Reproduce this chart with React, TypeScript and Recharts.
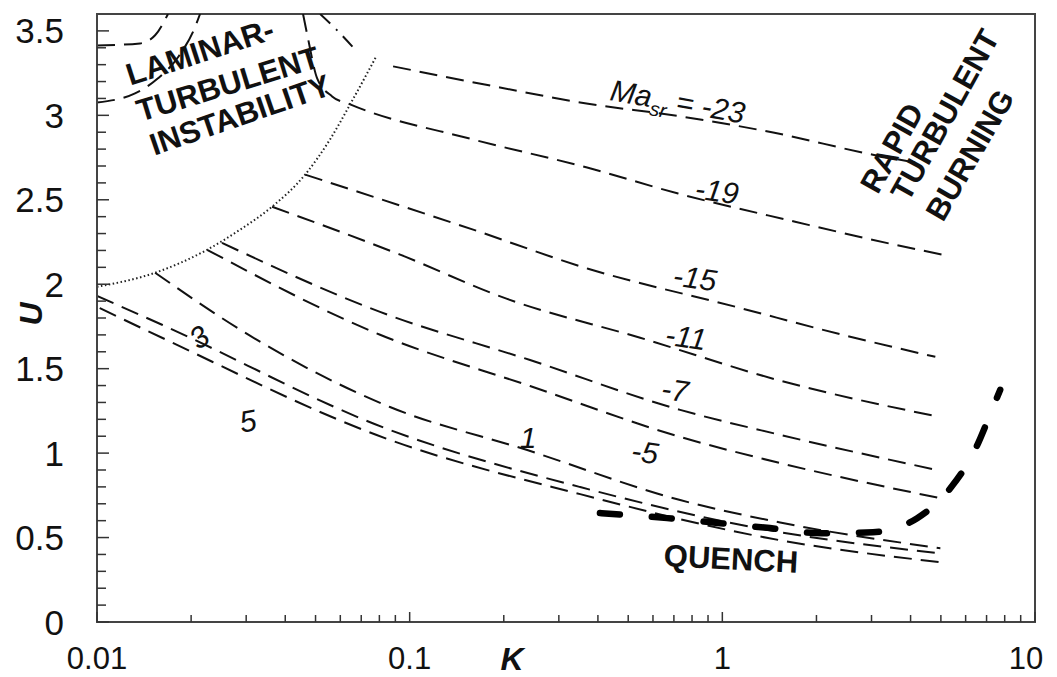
import React from 'react';
import { ComposedChart, Line, XAxis, YAxis, ReferenceArea } from 'recharts';

const FONT = '"Liberation Sans", Arial, Helvetica, sans-serif';

// Curves U(K), labelled by Ma_sr
const kM23 = [0.0885, 0.1945, 0.351, 0.733, 1.454, 3.03, 4.14];
const uM23 = [3.29, 3.165, 3.076, 2.994, 2.898, 2.767, 2.72];

const kM19 = [0.0456, 0.0473, 0.0506, 0.0565, 0.0645, 0.1596, 0.3694, 0.7222, 1.709, 3.442, 5.05];
const uM19 = [3.6, 3.455, 3.219, 3.112, 3.065, 2.857, 2.691, 2.537, 2.37, 2.24, 2.175];

const kM15 = [0.0463, 0.1596, 0.372, 1.099, 2.564, 4.8];
const uM15 = [2.649, 2.323, 2.092, 1.867, 1.689, 1.57];

const kM11 = [0.0363, 0.0932, 0.205, 0.546, 1.531, 4.98];
const uM11 = [2.459, 2.175, 1.913, 1.683, 1.429, 1.213];

const kM7 = [0.0251, 0.0804, 0.2427, 0.733, 1.531, 4.69];
const uM7 = [2.245, 1.836, 1.551, 1.256, 1.108, 0.906];

const kM5 = [0.0225, 0.0804, 0.2427, 0.733, 1.531, 4.98];
const uM5 = [2.204, 1.701, 1.397, 1.096, 0.941, 0.733];

const kP1 = [0.01534, 0.0325, 0.0865, 0.2377, 0.733, 1.531, 4.98];
const uP1 = [2.068, 1.67, 1.273, 1.018, 0.722, 0.589, 0.437];

const kP3 = [0.01, 0.01614, 0.0865, 0.351, 1.531, 4.98];
const uP3 = [1.931, 1.76, 1.137, 0.799, 0.532, 0.407];

const kP5 = [0.0102, 0.01614, 0.0865, 0.351, 1.531, 4.98];
const uP5 = [1.859, 1.683, 1.078, 0.757, 0.484, 0.354];

// laminar-turbulent stability boundary (dotted)
const kStab = [0.01, 0.01534, 0.0225, 0.02868, 0.0363, 0.0463, 0.0556, 0.0645, 0.0782];
const uStab = [1.985, 2.068, 2.204, 2.323, 2.459, 2.649, 2.857, 3.065, 3.349];

// quench / rapid turbulent burning boundary (bold dashed)
const kQuench = [0.406, 0.666, 0.984, 1.42, 2.08, 3.03, 4.2, 5.36, 6.4, 7.3, 7.74];
const uQuench = [0.645, 0.615, 0.585, 0.556, 0.526, 0.532, 0.615, 0.792, 1.012, 1.26, 1.375];

// upper-left fragments inside instability region
const kTop1 = [0.01, 0.01373, 0.01534, 0.01687];
const uTop1 = [3.414, 3.426, 3.474, 3.6];
const kTop2 = [0.01, 0.01323, 0.01567, 0.01816, 0.02058, 0.02136];
const uTop2 = [3.076, 3.13, 3.219, 3.344, 3.522, 3.6];
const kTop3 = [0.0517, 0.0582, 0.0668];
const uTop3 = [3.6, 3.509, 3.391];

// ticks
const xMajor = [0.01, 0.1, 1, 10];
const xTicks = [0.01, 0.02, 0.03, 0.04, 0.05, 0.06, 0.07, 0.08, 0.09, 0.1, 0.2, 0.3, 0.4, 0.5, 0.6, 0.7, 0.8, 0.9, 1, 2, 3, 4, 5, 6, 7, 8, 9, 10];
const xTickLabels = ['0.01', '0.1', '1', '10'];
const yMajor = [0, 0.5, 1, 1.5, 2, 2.5, 3, 3.5];
const yTickLabels = ['0', '0.5', '1', '1.5', '2', '2.5', '3', '3.5'];
const yTicks = [0, 0.1, 0.2, 0.3, 0.4, 0.5, 0.6, 0.7, 0.8, 0.9, 1, 1.1, 1.2, 1.3, 1.4, 1.5, 1.6, 1.7, 1.8, 1.9, 2, 2.1, 2.2, 2.3, 2.4, 2.5, 2.6, 2.7, 2.8, 2.9, 3, 3.1, 3.2, 3.3, 3.4, 3.5];

const toPts = (ks: number[], us: number[]) => ks.map((k, i) => ({ k, u: us[i] }));

const thinDash = '18 9';

const XTick = (props: any) => {
  const { x, y, payload } = props;
  const idx = xMajor.indexOf(payload.value);
  const major = idx >= 0;
  const last = idx === xMajor.length - 1;
  return (
    <g>
      <line x1={x} x2={x} y1={y} y2={y - (major ? 10 : 7)} stroke="#333" strokeWidth={1.5} />
      {major && (
        <text x={last ? x - 9 : x} y={y + 47} textAnchor="middle" fontFamily={FONT} fontSize={31} fill="#111">
          {xTickLabels[idx]}
        </text>
      )}
    </g>
  );
};

const YTick = (props: any) => {
  const { x, y, payload } = props;
  const idx = yMajor.indexOf(payload.value);
  const major = idx >= 0;
  return (
    <g>
      <line x1={x} x2={x + (major ? 12 : 9)} y1={y} y2={y} stroke="#333" strokeWidth={1.5} />
      {major && (
        <text x={x - 33} y={y} textAnchor="end" dominantBaseline="central" fontFamily={FONT} fontSize={35} fill="#111">
          {yTickLabels[idx]}
        </text>
      )}
    </g>
  );
};

const series = [
  { id: 'm23', k: kM23, u: uM23 },
  { id: 'm19', k: kM19, u: uM19 },
  { id: 'm15', k: kM15, u: uM15 },
  { id: 'm11', k: kM11, u: uM11 },
  { id: 'm7', k: kM7, u: uM7 },
  { id: 'm5', k: kM5, u: uM5 },
  { id: 'p1', k: kP1, u: uP1 },
  { id: 'p3', k: kP3, u: uP3 },
  { id: 'p5', k: kP5, u: uP5 },
  { id: 't1', k: kTop1, u: uTop1 },
  { id: 't2', k: kTop2, u: uTop2 },
];

const bold = { fontFamily: FONT, fontWeight: 700, fontSize: 31, fill: '#111' } as const;
const ital = { fontFamily: FONT, fontStyle: 'italic', fontSize: 30, fill: '#111' } as const;

export default function App() {
  return (
    <div style={{ position: 'absolute', left: 0, top: 0, width: 1057, height: 677, background: '#fff' }}>
      <ComposedChart width={1057} height={677} margin={{ top: 14, right: 22, bottom: 0, left: 37 }}>
        <XAxis
          dataKey="k"
          type="number"
          scale="log"
          domain={[0.01, 10]}
          allowDataOverflow
          ticks={xTicks}
          interval={0}
          tickSize={0}
          tickMargin={0}
          tickLine={false}
          axisLine={{ stroke: '#444', strokeWidth: 2 }}
          tick={(p: any) => <XTick {...p} />}
          height={55}
        />
        <YAxis
          type="number"
          domain={[0, 3.6]}
          allowDataOverflow
          ticks={yTicks}
          interval={0}
          tickSize={0}
          tickMargin={0}
          tickLine={false}
          axisLine={{ stroke: '#444', strokeWidth: 2 }}
          tick={(p: any) => <YTick {...p} />}
          width={60}
        />
        <ReferenceArea x1={0.01} x2={10} y1={0} y2={3.6} fill="none" stroke="#444" strokeWidth={2} fillOpacity={0} />
        {series.map((s) => (
          <Line
            key={s.id}
            data={toPts(s.k, s.u)}
            dataKey="u"
            type="monotone"
            stroke="#111"
            strokeWidth={2}
            strokeDasharray={thinDash}
            dot={false}
            activeDot={false}
            isAnimationActive={false}
          />
        ))}
        <Line
          data={toPts(kTop3, uTop3)}
          dataKey="u"
          type="monotone"
          stroke="#111"
          strokeWidth={2}
          strokeDasharray="14 8 2 8"
          dot={false}
          activeDot={false}
          isAnimationActive={false}
        />
        <Line
          data={toPts(kStab, uStab)}
          dataKey="u"
          type="monotone"
          stroke="#222"
          strokeWidth={2}
          strokeDasharray="1.5 2.5"
          dot={false}
          activeDot={false}
          isAnimationActive={false}
        />
        <Line
          data={toPts(kQuench, uQuench)}
          dataKey="u"
          type="monotone"
          stroke="#000"
          strokeWidth={6.5}
          strokeLinecap="round"
          strokeDasharray="20 32"
          dot={false}
          activeDot={false}
          isAnimationActive={false}
        />
      </ComposedChart>
      <svg width={1057} height={677} style={{ position: 'absolute', left: 0, top: 0, pointerEvents: 'none' }}>
        {/* axis titles */}
        <text x={512} y={659} textAnchor="middle" dominantBaseline="central" fontFamily={FONT} fontWeight={700} fontStyle="italic" fontSize={32} fill="#111">K</text>
        <text x={31} y={314} textAnchor="middle" dominantBaseline="central" fontFamily={FONT} fontWeight={700} fontStyle="italic" fontSize={32} fill="#111" transform="rotate(-90 31 314)">U</text>

        {/* region labels */}
        <g transform="rotate(-18 200 52)"><text x={200} y={52} textAnchor="middle" dominantBaseline="central" {...bold}>LAMINAR-</text></g>
        <g transform="rotate(-17 228 84)"><text x={228} y={84} textAnchor="middle" dominantBaseline="central" {...bold}>TURBULENT</text></g>
        <g transform="rotate(-19 240 115)"><text x={240} y={115} textAnchor="middle" dominantBaseline="central" {...bold}>INSTABILITY</text></g>

        <g transform="rotate(-61 892 148)"><text x={892} y={148} textAnchor="middle" dominantBaseline="central" {...bold}>RAPID</text></g>
        <g transform="rotate(-61 945 115)"><text x={945} y={115} textAnchor="middle" dominantBaseline="central" {...bold}>TURBULENT</text></g>
        <g transform="rotate(-60 970 155)"><text x={970} y={155} textAnchor="middle" dominantBaseline="central" {...bold}>BURNING</text></g>

        <g transform="rotate(3 731 559)"><text x={731} y={559} textAnchor="middle" dominantBaseline="central" {...bold}>QUENCH</text></g>

        {/* curve labels */}
        <g transform="rotate(10 609 100)">
          <text x={609} y={100} {...ital}>
            <tspan>Ma</tspan>
            <tspan dy={8} fontSize={20}>sr</tspan>
            <tspan dy={-8}> = -23</tspan>
          </text>
        </g>
        <g transform="rotate(8 717 191)"><text x={717} y={191} textAnchor="middle" dominantBaseline="central" {...ital}>-19</text></g>
        <g transform="rotate(8 695 278)"><text x={695} y={278} textAnchor="middle" dominantBaseline="central" {...ital}>-15</text></g>
        <g transform="rotate(8 686 337)"><text x={686} y={337} textAnchor="middle" dominantBaseline="central" {...ital}>-11</text></g>
        <g transform="rotate(8 675 390)"><text x={675} y={390} textAnchor="middle" dominantBaseline="central" {...ital}>-7</text></g>
        <g transform="rotate(8 645 452)"><text x={645} y={452} textAnchor="middle" dominantBaseline="central" {...ital}>-5</text></g>
        <text x={528} y={437} textAnchor="middle" dominantBaseline="central" {...ital}>1</text>
        <g transform="rotate(-35 199 337)"><text x={199} y={337} textAnchor="middle" dominantBaseline="central" {...ital}>3</text></g>
        <g transform="rotate(-10 248 421)"><text x={248} y={421} textAnchor="middle" dominantBaseline="central" {...ital}>5</text></g>
      </svg>
    </div>
  );
}
